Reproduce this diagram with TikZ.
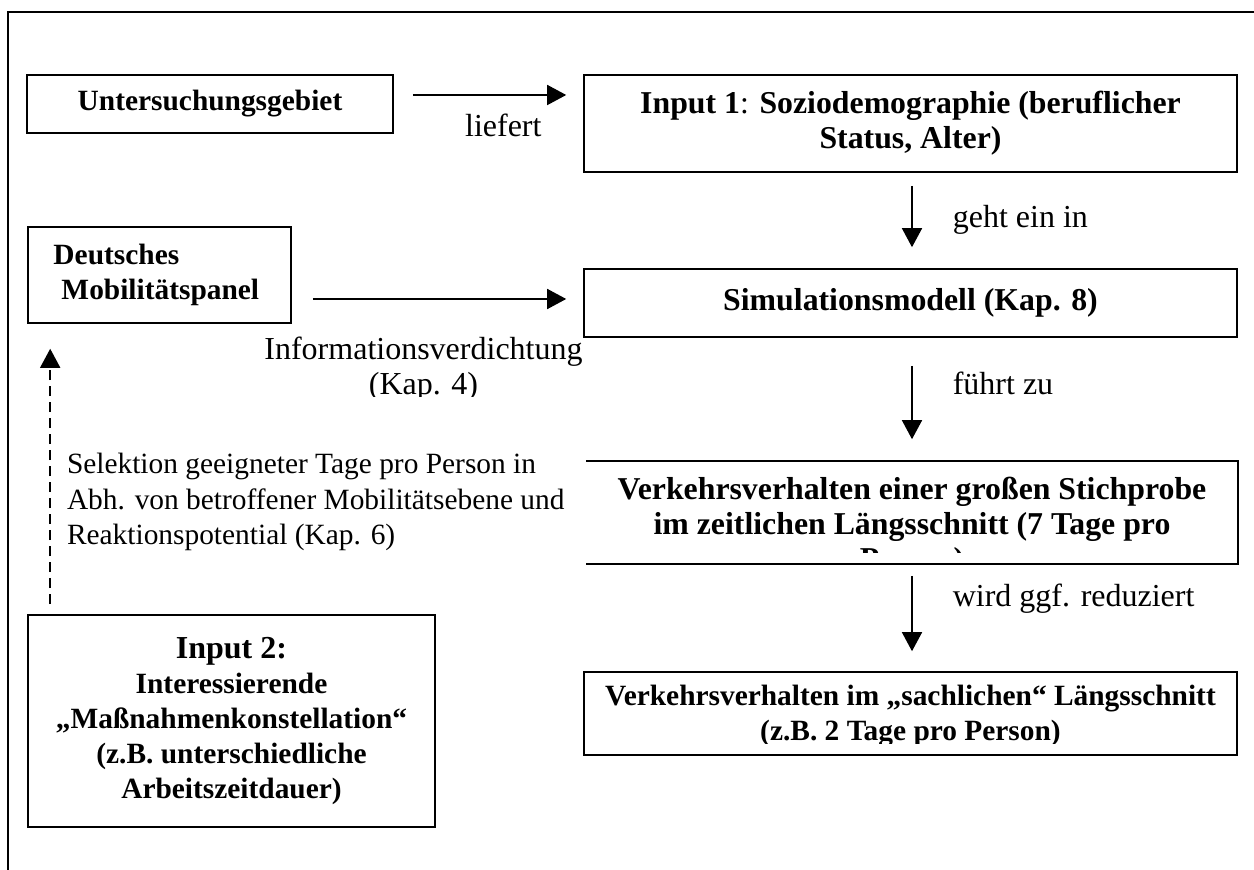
\documentclass[tikz,border=0pt]{standalone}
\usepackage{fontspec}
\setmainfont{Liberation Serif}
\usepackage{tikz}
\usetikzlibrary{arrows.meta, positioning, calc}
\newcommand{\kastenschrift}{\fontsize{14.7}{17.5}\selectfont\bfseries}
\newcommand{\grossschrift}{\fontsize{15.9}{17.5}\selectfont\bfseries}
\newcommand{\markenschrift}{\fontsize{16}{17.5}\selectfont}
\newcommand{\notizschrift}{\fontsize{14.7}{17.75}\selectfont}
\tikzset{>={Triangle[length=9.5pt,width=10pt]}}
\tikzset{kasten/.style={draw, inner sep=0pt, align=center, font=\kastenschrift},
	leerkasten/.style={inner sep=0pt},
	marke/.style={inner sep=0pt, font=\markenschrift}}

\begin{document}
\begin{tikzpicture}[x=0.5pt, y=-0.5pt, line width=0.8pt]
	\useasboundingbox (0,0) rectangle (1254,870);
	
	% Rahmen (nur oben und links sichtbar)
	\coordinate (rahmenrechts) at (1254,12);
	\coordinate (rahmenecke) at (8,12);
	\coordinate (rahmenunten) at (8,870);
	\draw (rahmenrechts) -- (rahmenecke) -- (rahmenunten);
	
	\node [kasten, minimum width=183pt, minimum height=29pt] (gebiet) at (210,104) {Untersuchungsgebiet};
	\node [kasten, font=\grossschrift, minimum width=326.5pt, minimum height=48.5pt] (input1) at (910.5,123.5) {Input 1{\mdseries :} Soziodemographie (beruflicher\\Status, Alter)};
	\node [kasten, minimum width=131.5pt, minimum height=48pt, align=left, text width=106pt] (panel) at (159.5,275) {Deutsches\\\hspace*{4pt}Mobilitätspanel};
	\node [kasten, font=\grossschrift, minimum width=326.5pt, minimum height=34pt] (simu) at (910.5,303) {Simulationsmodell (Kap. 8)};
	\node [leerkasten, minimum width=325pt, minimum height=50.5pt] (stich) at (912,512.5) {};
	\draw (stich.north west) -- (stich.north east) -- (stich.south east) -- (stich.south west);
	\node [kasten, minimum width=326.5pt, minimum height=41.5pt] (sachlich) at (910.5,713.5) {};
	\node [kasten, minimum width=203.5pt, minimum height=106pt] (input2) at (231.5,721) {{\fontsize{16}{17.5}\selectfont Input 2:}\\Interessierende\\„Maßnahmenkonstellation“\\(z.B. unterschiedliche\\Arbeitszeitdauer)};
	
	% abgeschnittene Texte
	\begin{scope}
		\clip (stich.north west) rectangle ([yshift=5.5pt]stich.south east);
		\node [leerkasten, align=center, font=\grossschrift] (stichtext) at (912,527) {Verkehrsverhalten einer großen Stichprobe\\im zeitlichen Längsschnitt (7 Tage pro\\Person)};
	\end{scope}
	\begin{scope}
		\clip (sachlich.north west) rectangle ([yshift=6pt]sachlich.south east);
		\node [leerkasten, align=center, font=\kastenschrift] (sachtext) at (910.5,716.5) {Verkehrsverhalten im „sachlichen“ Längsschnitt\\(z.B. 2 Tage pro Person)};
	\end{scope}
	\begin{scope}
		\clip (240,330) rectangle (600,397);
		\node [marke, align=center] (verdichtung) at (423.5,369.5) {Informationsverdichtung\\(Kap. 4)};
	\end{scope}
	
	\draw [->] ($(gebiet.east)+(19,-9)$) -- node [marke, pos=0.59, yshift=-15pt] {liefert} ($(input1.west |- gebiet.east)+(-17,-9)$);
	\draw [->] ($(panel.east)+(21,24)$) -- ($(simu.west |- panel.east)+(-17,24)$);
	\draw [->] ($(input1.south)+(1.5,13)$) -- node [marke, pos=0.55, right=20pt] {geht ein in} ($(simu.north)+(1.5,-21)$);
	\draw [->] ($(simu.south)+(1.5,28)$) -- node [marke, pos=0.24, right=20pt] {führt zu} ($(stich.north)+(0,-22)$);
	\draw [->] ($(stich.south)+(0,12)$) -- node [marke, pos=0.3, right=20pt] {wird ggf. reduziert} ($(sachlich.north)+(1.5,-20)$);
	\draw [->, dash pattern=on 5pt off 3pt] ($(input2.north west)+(23,-10)$) -- node [pos=0.4, right=8pt, inner sep=0pt, align=left, font=\notizschrift] {Selektion geeigneter Tage pro Person in\\Abh. von betroffener Mobilitätsebene und\\Reaktionspotential (Kap. 6)} ($(panel.south west)+(23,25)$);
\end{tikzpicture}
\end{document}
